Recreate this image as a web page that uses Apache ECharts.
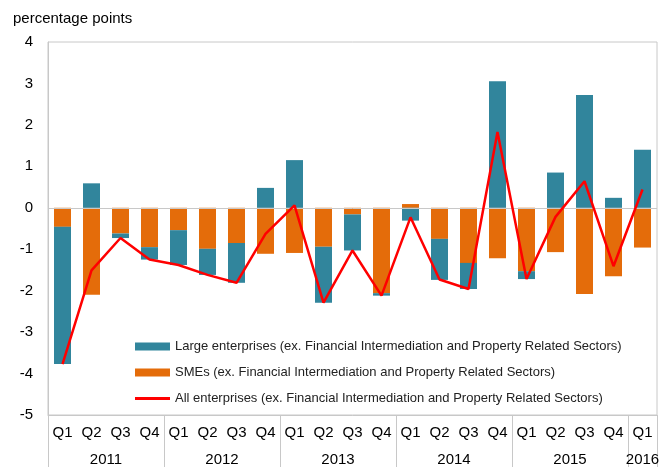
<!DOCTYPE html>
<html>
<head>
<meta charset="utf-8">
<script src="https://cdn.jsdelivr.net/npm/echarts@6/dist/echarts.min.js"></script>
<style>
  html, body { margin: 0; padding: 0; background: #fff; }
  #chart { width: 663px; height: 467px; }
</style>
</head>
<body>
<div id="chart"></div>
<script>
// quarters 2011 Q1 .. 2016 Q1
var quarters = ['Q1','Q2','Q3','Q4','Q1','Q2','Q3','Q4','Q1','Q2','Q3','Q4',
                'Q1','Q2','Q3','Q4','Q1','Q2','Q3','Q4','Q1'];
var years = ['2011', '2012', '2013', '2014', '2015', '2016'];
var yearCentres = [2, 6, 10, 14, 18, 20.5];
var yearBounds = [0, 4, 8, 12, 16, 20, 21];

var largeEnt = [-3.31, 0.59, -0.11, -0.30, -0.84, -0.63, -0.96, 0.48, 1.15, -1.35, -0.87,
                -0.06, -0.31, -0.99, -0.63, 3.05, -0.19, 0.85, 2.72, 0.24, 1.40];
var smes = [-0.46, -2.10, -0.62, -0.95, -0.54, -0.99, -0.85, -1.11, -1.09, -0.94, -0.16,
            -2.06, 0.09, -0.75, -1.33, -1.22, -1.53, -1.07, -2.08, -1.65, -0.96];
var allEnt = [-3.77, -1.51, -0.73, -1.25, -1.38, -1.62, -1.81, -0.63, 0.06, -2.29, -1.03,
              -2.12, -0.23, -1.73, -1.96, 1.83, -1.72, -0.22, 0.64, -1.41, 0.44];

var font = 'Liberation Sans, Arial, sans-serif';
var myChart = echarts.init(document.getElementById('chart'));

var option = {
  animation: false,
  title: {
    text: 'percentage points',
    left: 8, top: 6,
    textStyle: { fontSize: 15, fontWeight: 'normal', color: '#000', fontFamily: font }
  },
  legend: {
    orient: 'vertical',
    left: 130, top: 334,
    itemWidth: 35, itemHeight: 8, itemGap: 11,
    data: [
      { name: 'Large enterprises (ex. Financial Intermediation and Property Related Sectors)', icon: 'rect' },
      { name: 'SMEs (ex. Financial Intermediation and Property Related Sectors)', icon: 'rect' },
      { name: 'All enterprises (ex. Financial Intermediation and Property Related Sectors)',
        icon: 'path://M0,0 L35,0 L35,3 L0,3 Z' }
    ],
    textStyle: { fontSize: 13, color: '#222', fontFamily: font, lineHeight: 15 }
  },
  grid: {
    left: 48, right: 6, top: 42, bottom: 52,
    show: true, borderColor: '#c8c8c8', borderWidth: 1
  },
  xAxis: [{
    type: 'category',
    data: quarters,
    axisLine: { onZero: false, lineStyle: { color: '#c8c8c8' } },
    axisTick: { show: false },
    axisLabel: { color: '#000', fontSize: 15, margin: 10, fontFamily: font, interval: 0 }
  }, {
    type: 'value',
    min: 0, max: 21,
    position: 'bottom',
    axisLine: { show: false, onZero: false },
    splitLine: { show: false },
    axisTick: {
      show: true, customValues: yearBounds, length: 52,
      lineStyle: { color: '#c8c8c8' }
    },
    axisLabel: {
      customValues: yearCentres,
      margin: 37,
      color: '#000', fontSize: 15, fontFamily: font,
      formatter: function (v) {
        var i = yearCentres.indexOf(v);
        return i >= 0 ? years[i] : '';
      }
    }
  }],
  yAxis: {
    type: 'value',
    min: -5, max: 4, interval: 1,
    axisLine: { show: true, lineStyle: { color: '#c8c8c8' } },
    axisTick: { show: false },
    splitLine: { show: false },
    axisLabel: { color: '#000', fontSize: 15, margin: 15, fontFamily: font }
  },
  series: [{
    name: 'SMEs (ex. Financial Intermediation and Property Related Sectors)',
    type: 'bar',
    stack: 'ent',
    barWidth: 17,
    data: smes,
    itemStyle: { color: '#E46C0A' },
    markLine: {
      silent: true, symbol: 'none', label: { show: false },
      lineStyle: { color: '#c8c8c8', type: 'solid', width: 1 },
      data: [{ yAxis: 0 }]
    }
  }, {
    name: 'Large enterprises (ex. Financial Intermediation and Property Related Sectors)',
    type: 'bar',
    stack: 'ent',
    barWidth: 17,
    data: largeEnt,
    itemStyle: { color: '#31859C' }
  }, {
    name: 'All enterprises (ex. Financial Intermediation and Property Related Sectors)',
    type: 'line',
    data: allEnt,
    symbol: 'none',
    lineStyle: { color: '#FF0000', width: 2.5 },
    itemStyle: { color: '#FF0000' },
    z: 5
  }]
};

myChart.setOption(option);
</script>
</body>
</html>
